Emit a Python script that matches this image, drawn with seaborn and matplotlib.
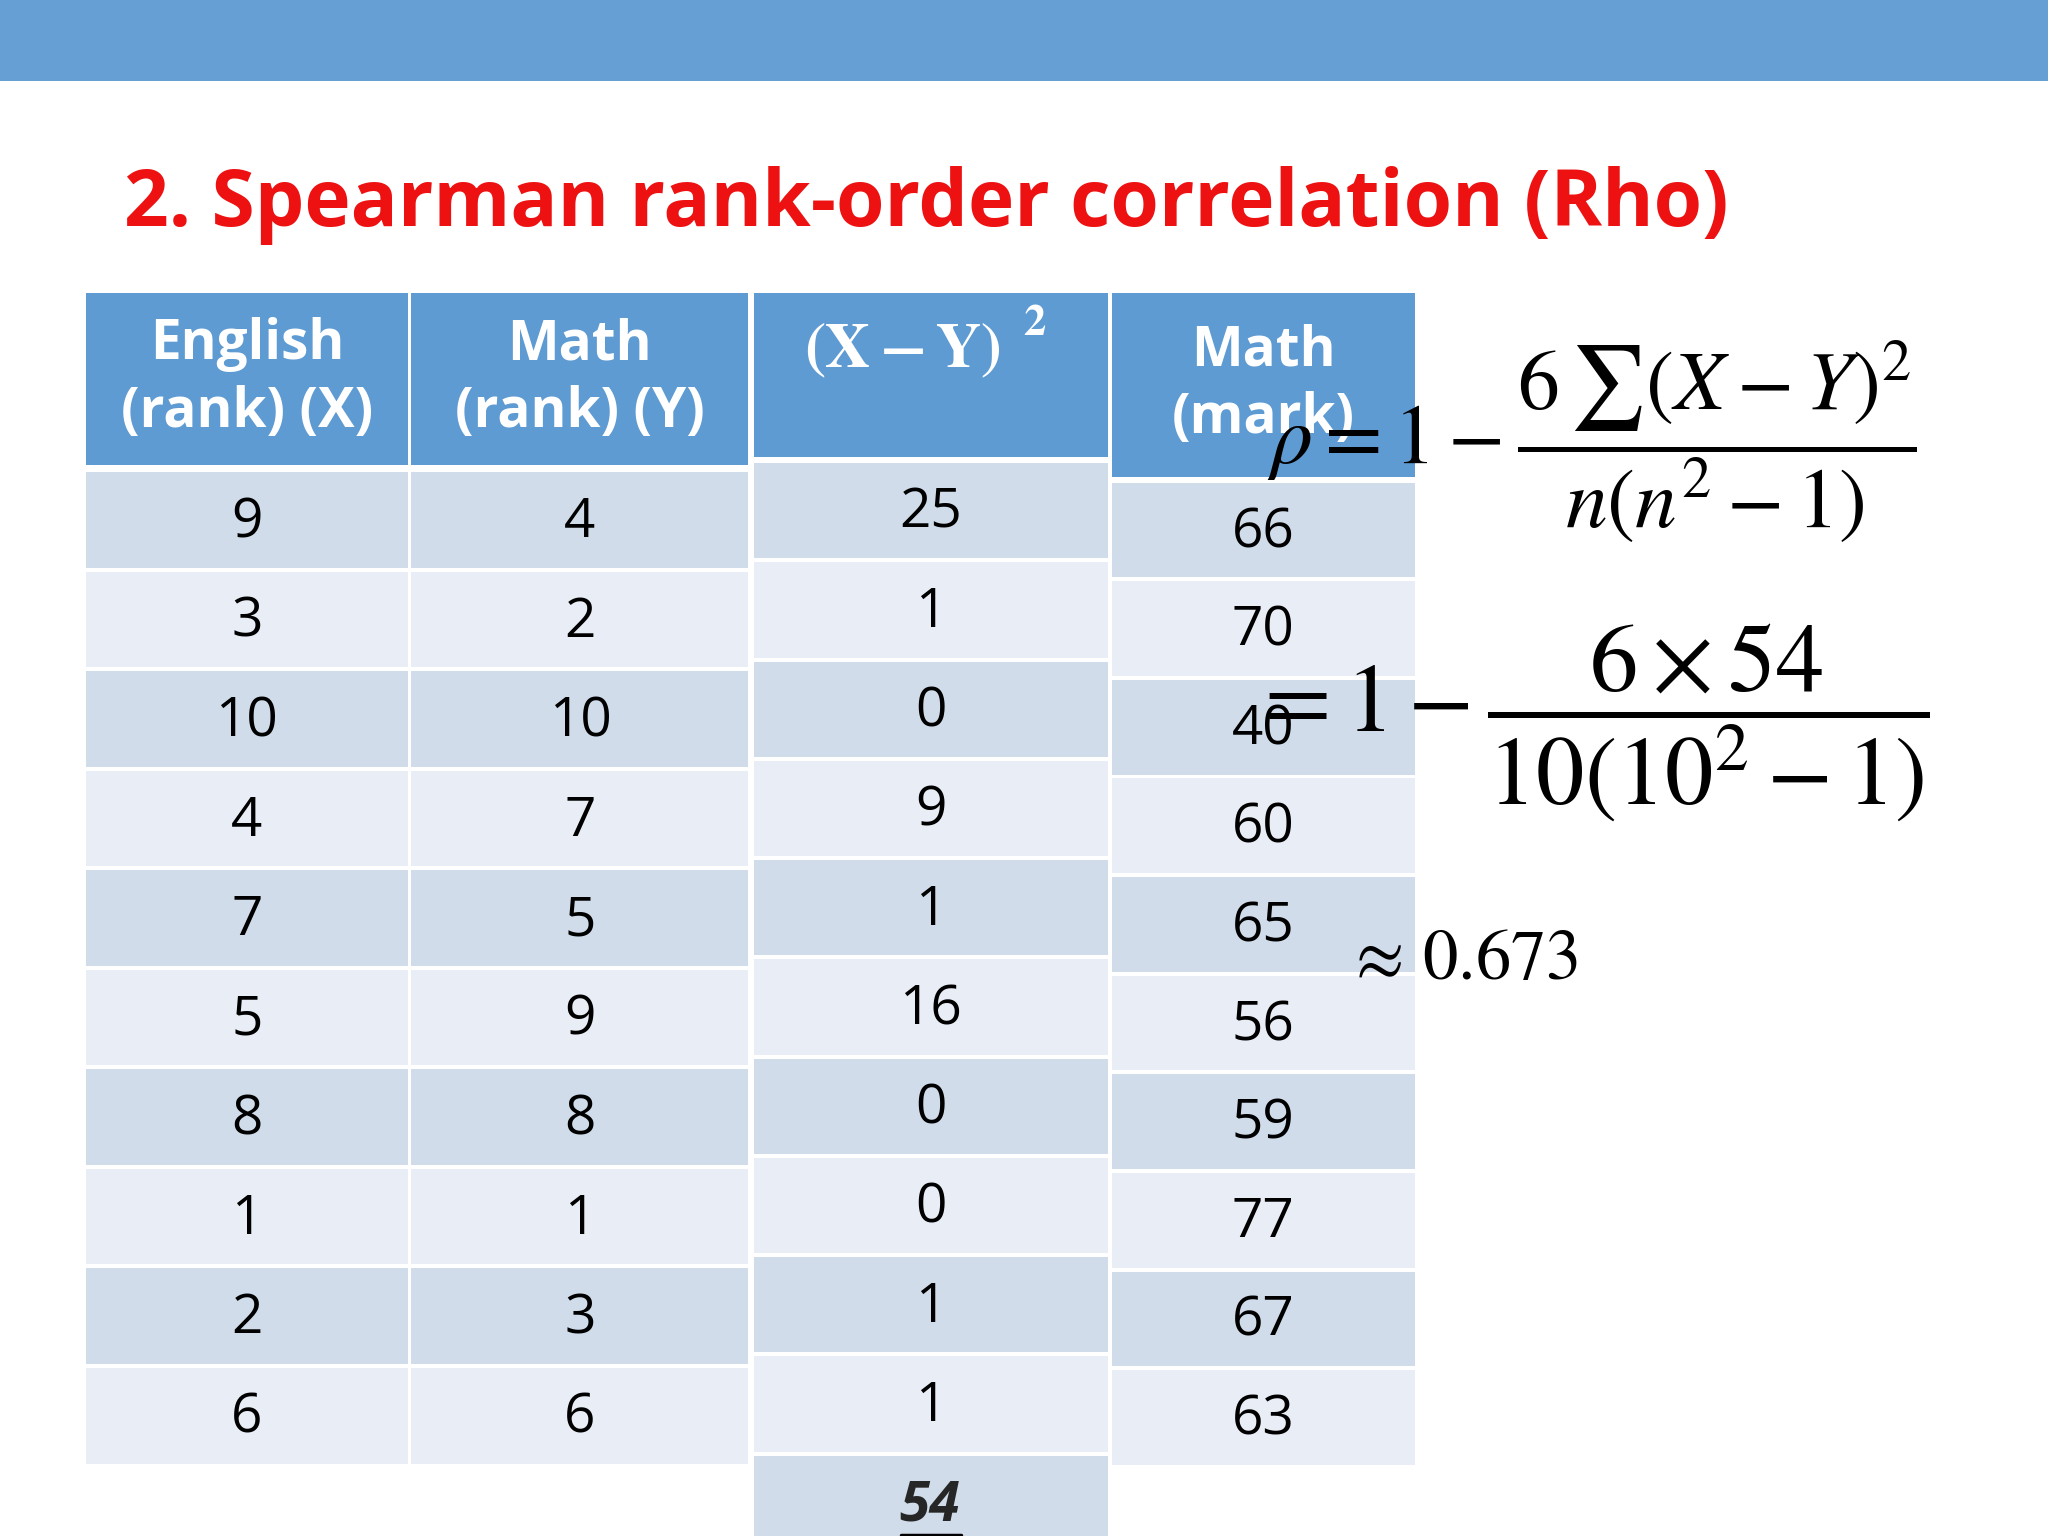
import matplotlib.pyplot as plt
import matplotlib.patches as mpatches
import seaborn as sns

sns.set_theme(style="white")
plt.rcParams["font.family"] = ["Open Sans", "DejaVu Sans"]
plt.rcParams["mathtext.fontset"] = "stix"

english_rank = [9, 3, 10, 4, 7, 5, 8, 1, 2, 6]
math_rank = [4, 2, 10, 7, 5, 9, 8, 1, 3, 6]
diff_sq = [25, 1, 0, 9, 1, 16, 0, 0, 1, 1]
math_mark = [66, 70, 40, 60, 65, 56, 59, 77, 67, 63]
diff_total = 54

HEAD = "#5f9bd3"
DARK = "#d0dcea"
LIGHT = "#e9eef6"
W, H = 1568, 1176
S = 2048 / W * 72 / 100  # px (reference space) -> pt


def fs(px):
    return px * S


fig = plt.figure(figsize=(20.48, 15.36), dpi=100)
ax = fig.add_axes([0, 0, 1, 1])
ax.set_xlim(0, W)
ax.set_ylim(H, 0)
ax.axis("off")

ax.add_patch(mpatches.Rectangle((0, 0), W, 62, color="#659fd3", lw=0))
ax.text(95, 157, "2. Spearman rank-order correlation (Rho)", color="#ee1111",
        fontsize=fs(60), fontweight="bold", va="center", ha="left")


def column(x0, x1, head_top, head_bot, row_top, row_h, values, header, head_math=False):
    ax.add_patch(mpatches.Rectangle((x0, head_top), x1 - x0, head_bot - head_top, color=HEAD, lw=0))
    cx = (x0 + x1) / 2
    if head_math:
        ax.text(cx - 22, head_top + 45, header, color="white", fontsize=fs(48), ha="center", va="center")
    else:
        ax.text(cx, (head_top + head_bot) / 2, header, color="white", fontsize=fs(42),
                fontweight="bold", ha="center", va="center", linespacing=1.3)
    for i, v in enumerate(values):
        y = row_top + i * row_h
        ax.add_patch(mpatches.Rectangle((x0, y + 1.5), x1 - x0, row_h - 3,
                                        color=DARK if i % 2 == 0 else LIGHT, lw=0))
        ax.text(cx, y + row_h / 2 + 2, str(v), fontsize=fs(42), ha="center", va="center", color="black")
    return row_top + len(values) * row_h


column(66, 312, 224, 356, 360, 76.2, english_rank, "English\n(rank) (X)")
column(315, 573, 224, 356, 360, 76.2, math_rank, "Math\n(rank) (Y)")
end = column(577, 848, 224, 350, 353, 76, diff_sq, r"$\mathbf{(X - Y)}$", head_math=True)
ax.text(792, 248, r"$\mathbf{2}$", color="white", fontsize=fs(34), ha="center", va="center")
ax.add_patch(mpatches.Rectangle((577, end + 1.5), 271, H - end, color=DARK, lw=0))
ax.text(712, end + 40, str(diff_total), fontsize=fs(42), fontweight="bold", fontstyle="italic",
        ha="center", va="center")
ax.plot([690, 736], [end + 62, end + 62], color="black", lw=2.5)
column(851, 1083, 224, 365, 368, 75.5, math_mark, "Math\n(mark)")

ax.text(970, 338, r"$\rho = 1 - \dfrac{6\,\sum(X - Y)^2}{n(n^2 - 1)}$", fontsize=fs(64),
        ha="left", va="center", color="black")
ax.text(958, 553, r"$= 1 - \dfrac{6 \times 54}{10(10^2 - 1)}$", fontsize=fs(74),
        ha="left", va="center", color="black")
ax.text(1030, 735, r"$\approx\, 0.673$", fontsize=fs(54), ha="left", va="center", color="black")

fig.savefig("out.png", dpi=100)
